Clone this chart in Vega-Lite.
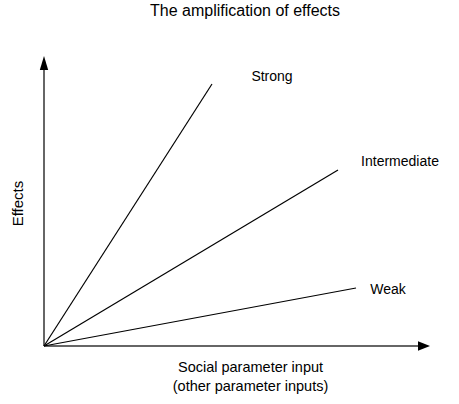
{
  "$schema": "https://vega.github.io/schema/vega-lite/v6.json",
  "autosize": "none",
  "width": 386,
  "height": 286,
  "padding": {"left": 44, "top": 60, "right": 29, "bottom": 58},
  "background": "white",
  "config": {"view": {"stroke": null}, "font": "Liberation Sans"},
  "title": {"text": "The amplification of effects", "fontSize": 16, "fontWeight": "normal", "font": "Liberation Sans", "color": "black", "anchor": "middle", "offset": 37, "dx": 8},
  "datasets": {
    "lines": [
      {"series": "Strong", "x": 0, "y": 0},
      {"series": "Strong", "x": 168, "y": 262},
      {"series": "Intermediate", "x": 0, "y": 0},
      {"series": "Intermediate", "x": 294, "y": 176},
      {"series": "Weak", "x": 0, "y": 0},
      {"series": "Weak", "x": 312, "y": 58}
    ],
    "labels": [
      {"label": "Strong", "x": 228, "y": 269},
      {"label": "Intermediate", "x": 356, "y": 184},
      {"label": "Weak", "x": 344, "y": 56}
    ],
    "axes": [
      {"axis": "x", "x": 0, "y": 0},
      {"axis": "x", "x": 374, "y": 0},
      {"axis": "y", "x": 0, "y": 0},
      {"axis": "y", "x": 0, "y": 276}
    ],
    "heads": [
      {"dir": "up", "x": 0, "y": 283},
      {"dir": "right", "x": 380, "y": 0}
    ]
  },
  "encoding": {
    "x": {"field": "x", "type": "quantitative", "scale": {"domain": [0, 386], "nice": false, "zero": false},
      "axis": {"domain": false, "ticks": false, "labels": false, "grid": false,
        "title": ["Social parameter input", "(other parameter inputs)"],
        "titleFont": "Liberation Sans", "titleFontSize": 14.5, "titleFontWeight": "normal", "titleColor": "black",
        "titleX": 206, "titlePadding": 14, "titleLineHeight": 19}},
    "y": {"field": "y", "type": "quantitative", "scale": {"domain": [0, 286], "nice": false, "zero": false},
      "axis": {"domain": false, "ticks": false, "labels": false, "grid": false,
        "title": "Effects", "titleFont": "Liberation Sans", "titleFontSize": 15, "titleFontWeight": "normal", "titleColor": "black",
        "titlePadding": 19}}
  },
  "layer": [
    {
      "data": {"name": "axes"},
      "mark": {"type": "line", "stroke": "#666666", "strokeWidth": 2, "clip": false},
      "encoding": {"detail": {"field": "axis"}}
    },
    {
      "data": {"name": "lines"},
      "mark": {"type": "line", "stroke": "black", "strokeWidth": 1.2, "clip": false},
      "encoding": {"detail": {"field": "series"}}
    },
    {
      "data": {"name": "heads"},
      "transform": [{"filter": "datum.dir === 'up'"}],
      "mark": {"type": "point", "shape": "M0,-1L0.6,1L-0.6,1Z", "size": 196, "filled": true, "fill": "black", "stroke": null, "opacity": 1, "clip": false}
    },
    {
      "data": {"name": "heads"},
      "transform": [{"filter": "datum.dir === 'right'"}],
      "mark": {"type": "point", "shape": "M1,0L-1,-0.8L-1,0.8Z", "size": 144, "filled": true, "fill": "black", "stroke": null, "opacity": 1, "clip": false}
    },
    {
      "data": {"name": "labels"},
      "mark": {"type": "text", "fontSize": 14, "font": "Liberation Sans", "color": "black", "clip": false},
      "encoding": {"text": {"field": "label"}}
    }
  ]
}
